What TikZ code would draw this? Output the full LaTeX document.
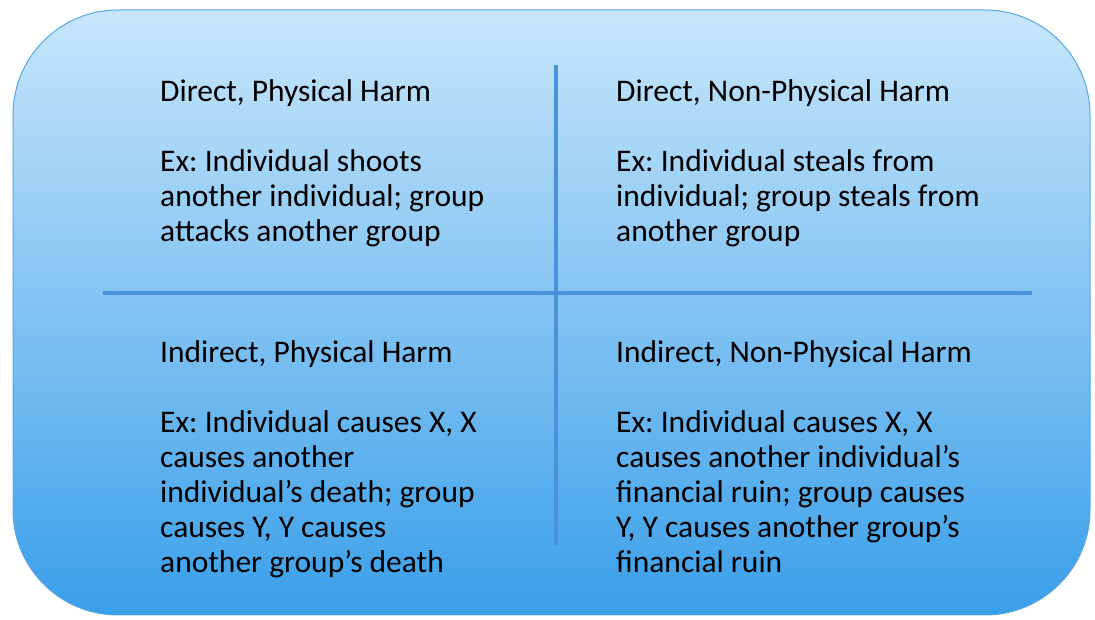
\documentclass[tikz,border=0pt]{standalone}
\usepackage{fontspec}
\setmainfont{Carlito}
\usetikzlibrary{positioning}
\frenchspacing

\definecolor{boxtop}{HTML}{C8E6FB}
\definecolor{boxbot}{HTML}{3A9FE9}
\definecolor{boxrim}{HTML}{55A8E6}
\definecolor{divline}{HTML}{4A93DC}

\tikzset{
  quad/.style={anchor=base west,align=left,inner sep=0pt,
    font=\fontsize{31.5}{35}\selectfont,text=black},
  divider/.style={draw=divline,line width=4.5pt}
}

\begin{document}
\begin{tikzpicture}[x=1pt,y=1pt]
    \useasboundingbox (0,0) rectangle (1095,620);
    \shade[top color=boxtop,bottom color=boxbot,draw=boxrim,line width=1pt,
      rounded corners=105pt] (13,5) rectangle (1090,610);

    % dividers
    \coordinate (vtop) at (556,555);
    \coordinate (vbot) at (556,75);
    \coordinate (hleft) at (103,327);
    \coordinate (hright) at (1032,327);
    \draw[divider] (vtop)--(vbot);
    \draw[divider] (hleft)--(hright);

    % base anchor sits on the last line
    \node[quad] (dphys) at (160,378) {Direct, Physical Harm\\[35pt]
      Ex: Individual shoots\\another individual; group\\attacks another group};
    \node[quad] (dnon) at (616,378) {Direct, Non-Physical Harm\\[35pt]
      Ex: Individual steals from\\individual; group steals from\\another group};
    \node[quad] (iphys) at (160,47) {Indirect, Physical Harm\\[35pt]
      Ex: Individual causes X, X\\causes another\\individual’s death; group\\causes Y, Y causes\\another group’s death};
    \node[quad] (inon) at (616,47) {Indirect, Non-Physical Harm\\[35pt]
      Ex: Individual causes X, X\\causes another individual’s\\financial ruin; group causes\\Y, Y causes another group’s\\financial ruin};
\end{tikzpicture}
\end{document}
